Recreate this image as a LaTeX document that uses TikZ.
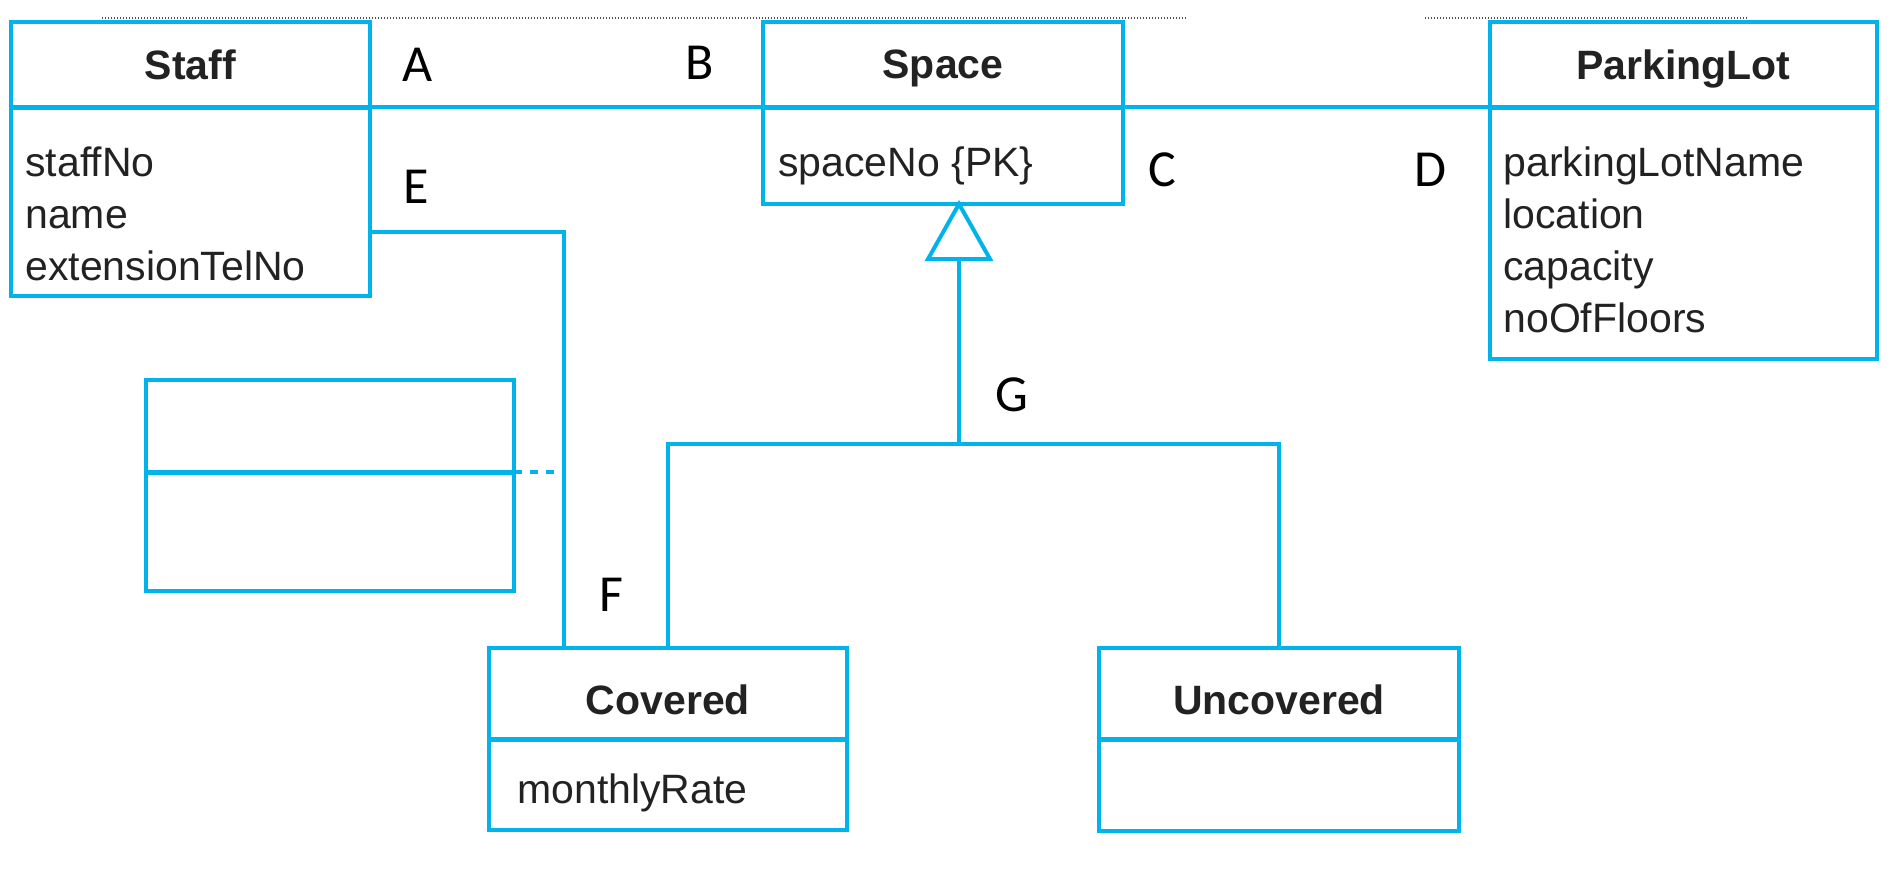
\documentclass[tikz,border=0pt]{standalone}
\usepackage{fontspec}
\setmainfont{Liberation Sans}
\newfontfamily\tagfont{Carlito}
\usetikzlibrary{positioning}
\definecolor{umlblue}{HTML}{00B4EB}
\definecolor{umltext}{HTML}{222222}

\begin{document}
\begin{tikzpicture}[x=0.5pt, y=-0.5pt,
    classtitle/.style={draw=umlblue, line width=2pt, outer sep=0pt, inner sep=0pt,
      minimum height=42.5pt, text depth=0pt, text=umltext,
      font=\bfseries\fontsize{20.5}{26}\selectfont},
    classbody/.style={draw=umlblue, line width=2pt, outer sep=0pt, inner sep=0pt},
    attrs/.style={anchor=north west, inner sep=0pt, align=left, text=umltext,
      font=\fontsize{20.5}{26}\selectfont},
    tag/.style={font=\tagfont\fontsize{26}{30}\selectfont, inner sep=0pt},
    link/.style={draw=umlblue, line width=1.8pt}]

    \useasboundingbox (0,0) rectangle (1902,868);

    % Linee punteggiate in alto
    \coordinate (dotA1) at (102,18);
    \coordinate (dotA2) at (1186,18);
    \coordinate (dotB1) at (1425,18);
    \coordinate (dotB2) at (1748,18);
    \draw[black!70, line width=0.6pt, dash pattern=on 0.6pt off 0.9pt] (dotA1) -- (dotA2);
    \draw[black!70, line width=0.6pt, dash pattern=on 0.6pt off 0.9pt] (dotB1) -- (dotB2);

    % Classe Staff
    \node[classtitle, minimum width=179.5pt] (staff) at (190.5,64.5) {Staff};
    \node[classbody, minimum width=179.5pt, minimum height=94pt, below=0.5pt of staff] (staffbody) {};
    \node[attrs] (staffattr) at ([xshift=7pt,yshift=-19pt]staffbody.north west) {staffNo\\name\\extensionTelNo};

    % Classe Space
    \node[classtitle, minimum width=180pt] (space) at (943,64.5) {Space};
    \node[classbody, minimum width=180pt, minimum height=48pt, below=0.5pt of space] (spacebody) {};
    \node[attrs] (spaceattr) at ([xshift=7.5pt,yshift=-19pt]spacebody.north west) {spaceNo \{PK\}};

    % Classe ParkingLot
    \node[classtitle, minimum width=193.5pt] (parking) at (1683.5,64.5) {ParkingLot};
    \node[classbody, minimum width=193.5pt, minimum height=125.5pt, below=0.5pt of parking] (parkingbody) {};
    \node[attrs] (parkingattr) at ([xshift=6.5pt,yshift=-19pt]parkingbody.north west) {parkingLotName\\location\\capacity\\noOfFloors};

    % Classe di associazione (vuota)
    \node[classtitle, minimum width=184pt, minimum height=46pt] (assoc) at (330,426) {};
    \node[classbody, minimum width=184pt, minimum height=59pt, below=0.5pt of assoc] (assocbody) {};

    % Sottoclassi
    \node[classtitle, minimum width=179pt, minimum height=45.5pt, text height=21pt] (covered) at (668,693.5) {Covered};
    \node[classbody, minimum width=179pt, minimum height=45pt, below=0.5pt of covered] (coveredbody) {};
    \node[attrs] (coveredattr) at ([xshift=14pt,yshift=-16.5pt]coveredbody.north west) {monthlyRate};

    \node[classtitle, minimum width=180pt, minimum height=45.5pt, text height=21pt] (uncovered) at (1279,693.5) {Uncovered};
    \node[classbody, minimum width=180pt, minimum height=45.5pt, below=0.5pt of uncovered] (uncoveredbody) {};

    % Associazioni
    \draw[link, line width=2.2pt] (staff.south east) -- (space.south west);
    \draw[link, line width=2.2pt] (space.south east) -- (parking.south west);

    \coordinate (covlink) at ([xshift=37.5pt]covered.north west);
    \draw[link] ([yshift=-15pt]staffbody.east) -| (covlink);
    \draw[link, dash pattern=on 4pt off 4pt] (assoc.south east) -- (assoc.south east -| covlink);

    % Generalizzazione
    \coordinate (genTip) at ([xshift=8pt]spacebody.south);
    \coordinate (genBase) at ([yshift=-27.5pt]genTip);
    \coordinate (genJoin) at ([yshift=-92.5pt]genBase);
    \draw[link, line width=2pt, fill=white] (genTip) -- ++(-31,55) -- ++(62,0) -- cycle;
    \draw[link] (genBase) -- (genJoin);
    \draw[link] (covered.north) |- (genJoin) -| (uncovered.north);

    % Etichette
    \node[tag] (labA) at (418,65) {A};
    \node[tag] (labB) at (700,63) {B};
    \node[tag] (labC) at (1162,170) {C};
    \node[tag] (labD) at (1430,170) {D};
    \node[tag] (labE) at (416,187) {E};
    \node[tag] (labF) at (611,595) {F};
    \node[tag] (labG) at (1012,395) {G};
\end{tikzpicture}
\end{document}
